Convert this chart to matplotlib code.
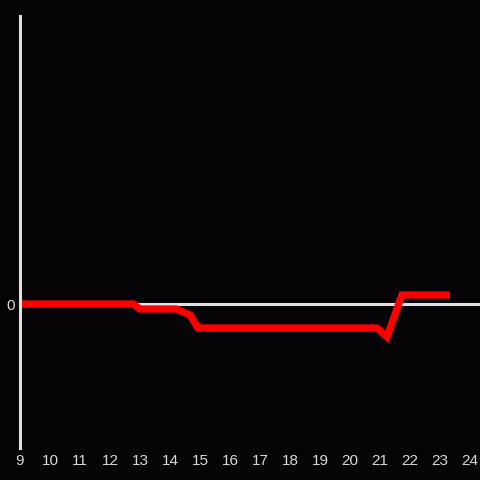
import matplotlib
matplotlib.use("Agg")
import matplotlib.pyplot as plt

# data
x_vals = [9.0, 12.77, 13.0, 14.2, 14.67, 14.93, 20.9, 21.23, 21.73, 23.33]
y_vals = [0.0, 0.0, -0.5, -0.5, -1.1, -2.4, -2.4, -3.3, 0.9, 0.9]
x_ticks = list(range(9, 25))
y_ticks = [0]

bg = "#050306"
fg = "#e0e0e0"

fig = plt.figure(figsize=(4.8, 4.8), dpi=100, facecolor=bg)
ax = fig.add_axes([20/480, 32/480, 460/480, 432/480], facecolor=bg)
ax.set_xlim(9, 9 + 460/30)
ax.set_ylim(-14.4, 28.8)

ax.axhline(0, color=fg, lw=2.2, zorder=1)
ax.plot(x_vals, y_vals, color="#ff0000", lw=5.2, zorder=2,
        solid_joinstyle="miter", solid_capstyle="butt")

for s in ["top", "right", "bottom"]:
    ax.spines[s].set_visible(False)
ax.spines["left"].set_color(fg)
ax.spines["left"].set_linewidth(2.2)

ax.set_xticks(x_ticks)
ax.set_xticklabels([str(t) for t in x_ticks])
ax.set_yticks(y_ticks)
ax.set_yticklabels(["0"])
ax.tick_params(axis="both", length=0, colors="#d8d8d8", labelsize=11)
ax.tick_params(axis="x", pad=4.5)
ax.tick_params(axis="y", pad=4)
for lab in ax.get_xticklabels() + ax.get_yticklabels():
    lab.set_fontfamily("Liberation Sans")

fig.savefig("out.png", dpi=100, facecolor=bg)
